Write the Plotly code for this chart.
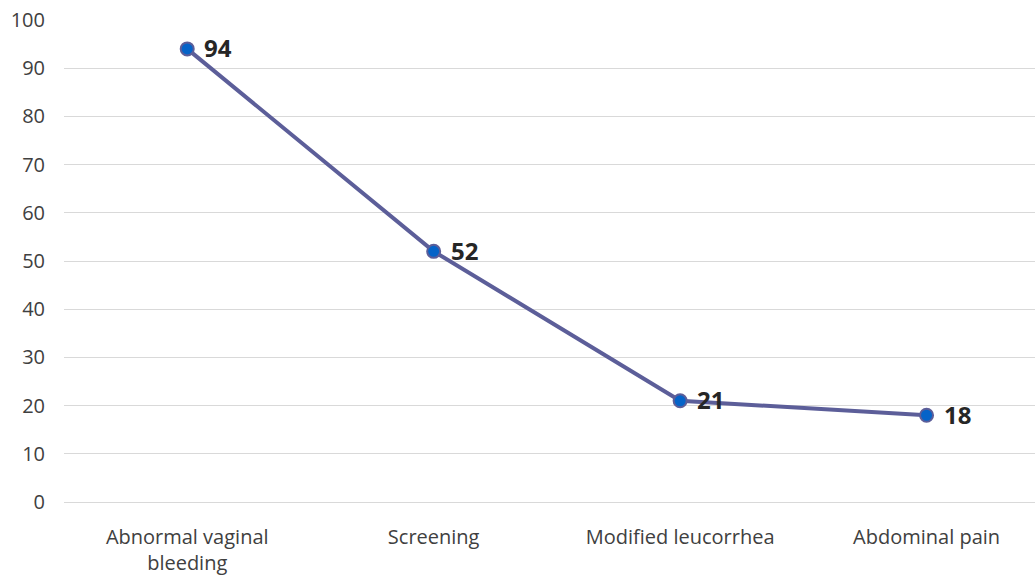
import plotly.graph_objects as go

categories = ["Abnormal vaginal<br>bleeding", "Screening", "Modified leucorrhea", "Abdominal pain"]
values = [94, 52, 21, 18]
y_ticks = list(range(0, 101, 10))

x_pos = list(range(len(categories)))

fig = go.Figure()
fig.add_trace(go.Scatter(
    x=x_pos,
    y=values,
    mode="lines+markers",
    line=dict(color="#5c5e99", width=4),
    marker=dict(size=13, color="#0563c8", line=dict(color="#5c5e99", width=2)),
    cliponaxis=False,
    showlegend=False,
))

# value labels to the right of each point
for xv, v in zip(x_pos, values):
    fig.add_annotation(
        x=xv, y=v, text=f"<b>{v}</b>", showarrow=False,
        xanchor="left", yanchor="middle", xshift=15, yshift=1,
        font=dict(family="Open Sans", size=24, color="#262626"),
    )

fig.update_layout(
    width=1035, height=580,
    margin=dict(l=64, r=0, t=20, b=78),
    paper_bgcolor="white", plot_bgcolor="white",
    font=dict(family="Open Sans", size=20, color="#404040"),
    xaxis=dict(
        range=[-0.5, 3.44],
        tickmode="array",
        tickvals=x_pos,
        ticktext=categories,
        showgrid=False, zeroline=False, showline=False,
        ticks="", ticklabelstandoff=21,
        tickfont=dict(size=20, color="#404040"),
    ),
    yaxis=dict(
        range=[0, 100],
        tickmode="array",
        tickvals=y_ticks,
        showgrid=True, gridcolor="#d9d9d9", gridwidth=1,
        zeroline=True, zerolinecolor="#d9d9d9", zerolinewidth=1,
        showline=False, ticks="", ticklabelstandoff=18,
        tickfont=dict(size=20, color="#404040"),
    ),
)

fig.write_html("out.html")
